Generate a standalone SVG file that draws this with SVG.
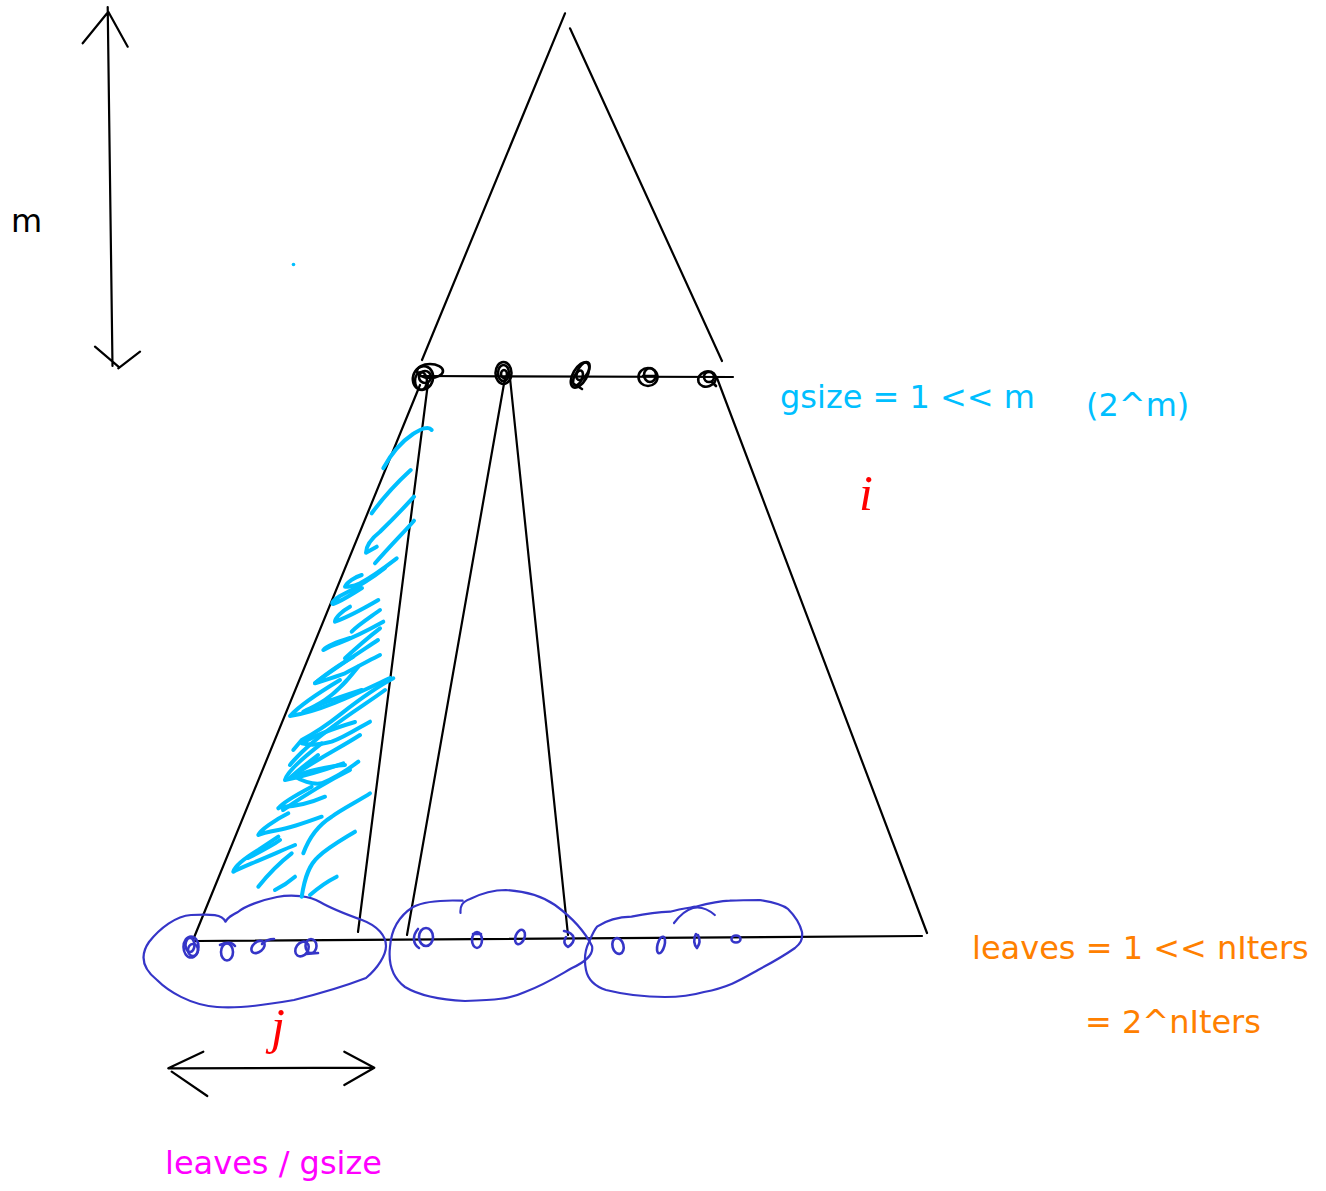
<svg xmlns="http://www.w3.org/2000/svg" width="1326" height="1191" viewBox="0 0 1326 1191">
<style>
.ink{fill:none;stroke:#000;stroke-width:2.2;stroke-linecap:round;stroke-linejoin:round}
.node{fill:none;stroke:#000;stroke-width:2.6;stroke-linecap:round;stroke-linejoin:round}
.blue{fill:none;stroke:#3535c8;stroke-width:2.2;stroke-linecap:round;stroke-linejoin:round}
.leaf{fill:none;stroke:#3535c8;stroke-width:2.6;stroke-linecap:round;stroke-linejoin:round}
.cyan{fill:none;stroke:#00bfff;stroke-width:4;stroke-linecap:round;stroke-linejoin:round}
.t{font-family:"DejaVu Sans","Liberation Sans",sans-serif;font-size:32px}
.v{font-family:"Liberation Serif","DejaVu Serif",serif;font-style:italic;font-size:50px;fill:#ff0000}
</style>
<rect width="1326" height="1191" fill="#fff"/>

<g id="connectors">
  <path class="ink" d="M107.7,7 L112.5,366 M82.7,43.3 L107.3,13 M108.3,11.7 L127.7,46.7 M95,346.7 L119.3,367.3 M140,351.7 L118.3,368.3"/>
  <path class="ink" d="M565,13.3 L422,360 M570,28.3 L722,361"/>
  <path class="ink" d="M422,376 L733,377"/>
  <path class="ink" d="M420,385 L193,940 M428,383 L358,932"/>
  <path class="ink" d="M505,378 L407,935 M510,378 L568,935"/>
  <path class="ink" d="M717,378 L927,933"/>
  <path class="ink" d="M195,941 L922,936"/>
  <path class="ink" d="M168.3,1068.3 L373,1067.7 M203.3,1051.7 L168.3,1068.3 M171.7,1071.7 L207.3,1096 M344.3,1051.7 L374.3,1067.7 L344.3,1085"/>
</g>

<g id="top-nodes">
  <g id="node-top-1" class="node">
    <ellipse cx="423" cy="378" rx="10" ry="12" transform="rotate(15 423 378)"/>
    <ellipse cx="430" cy="371" rx="13" ry="7"/>
    <ellipse cx="421" cy="381" rx="6" ry="9"/>
    <ellipse cx="425" cy="377" rx="6" ry="6"/>
  </g>
  <g id="node-top-2" class="node">
    <ellipse cx="503.5" cy="373" rx="8" ry="11"/>
    <ellipse cx="503.5" cy="373" rx="5.5" ry="8"/>
    <ellipse cx="504" cy="374" rx="3" ry="4"/>
  </g>
  <g id="node-top-3" class="node">
    <ellipse cx="580" cy="375" rx="7" ry="14" transform="rotate(30 580 375)"/>
    <ellipse cx="583" cy="371" rx="5" ry="10" transform="rotate(30 583 371)"/>
    <ellipse cx="578" cy="378" rx="4" ry="8" transform="rotate(25 578 378)"/>
    <path d="M574,384 L582,389"/>
  </g>
  <g id="node-top-4" class="node">
    <ellipse cx="648" cy="377" rx="9.5" ry="9"/>
    <ellipse cx="650" cy="375" rx="6" ry="7"/>
    <path d="M643,376 L657,376"/>
  </g>
  <g id="node-top-5" class="node">
    <ellipse cx="707" cy="379" rx="9" ry="7.5" transform="rotate(-20 707 379)"/>
    <ellipse cx="709" cy="377" rx="5" ry="5"/>
    <path d="M712,382 L716,386"/>
  </g>
</g>

<g id="group-blobs">
  <path id="blob-1" class="blue" d="M225.5,921.7 C222,914 212,914 191,915 C176,916 160,928 149,942 C140,955 142,968 157,980 C168,991 190,1005 217,1007 C240,1009 270,1004 294,1000 C318,994 340,988 366,978 C378,968 386,955 386,946 C386,936 378,926 362,920 C348,915 332,909 320,902 C310,896 292,894 277,897 C262,900 245,906 238,912 C232,915 228,917 225.5,921.7"/>
  <path id="blob-2" class="blue" d="M460.5,913 C460,906 462,902 470,899 C482,893 492,890 506,890 C524,891 542,896 555,905 C570,916 584,930 592,946 C594,955 585,962 572,968 C558,976 546,984 525,992 C510,999 495,1000 465,1001 C445,1000 420,996 405,987 C393,978 388,965 390,947 C391,932 396,918 413,907 C425,901 445,900 462.6,900.7"/>
  <path id="blob-3" class="blue" d="M597,926.7 C607,920 618,917 631.5,916.7 C645,914 660,912 670,911.7 C680,909 688,908 695.6,906.7 C710,903 720,901 729.7,900.7 C742,900 752,900 759.7,900 C772,902 782,904 788,909 C795,916 800,924 802,932 C803,940 800,944 795,948 C785,955 775,961 758,970 C742,979 730,987 704,992 C690,996 680,997 665,997 C650,997 630,996 606,990 C594,986 588,980 586,970 C584,960 585,950 589,942 C592,935 594,930 597,926.7"/>
  <path class="blue" d="M674,923 C680,915 686,910 693,908 C702,906 709,910 714.8,915"/>
</g>

<g id="leaf-marks" class="leaf">
  <ellipse cx="191" cy="947" rx="7.5" ry="10.5"/>
  <ellipse cx="190" cy="945" rx="4.5" ry="7"/>
  <ellipse cx="193" cy="950" rx="5" ry="6"/>
  <ellipse cx="227" cy="952" rx="6" ry="8.5"/>
  <path d="M220,945 C226,942 232,942 235,946"/>
  <ellipse cx="258" cy="947" rx="5" ry="7.5" transform="rotate(50 258 947)"/>
  <path d="M262,944 C266,940 270,939 274,939"/>
  <ellipse cx="302" cy="949" rx="6" ry="8" transform="rotate(35 302 949)"/>
  <ellipse cx="311" cy="946" rx="5.5" ry="7"/>
  <path d="M306,954 L318,953"/>
  <ellipse cx="426" cy="937" rx="7" ry="9"/>
  <path d="M418,929 C412,936 413,944 419,948"/>
  <ellipse cx="477" cy="940" rx="5" ry="8"/>
  <path d="M473,934 L481,934"/>
  <ellipse cx="520" cy="937" rx="4.5" ry="7.5" transform="rotate(20 520 937)"/>
  <path d="M564,931 C575,933 577,941 568,947 C563,944 564,940 566,937"/>
  <ellipse cx="618" cy="946" rx="5.5" ry="8" transform="rotate(-15 618 946)"/>
  <ellipse cx="661" cy="945" rx="3.5" ry="8.5" transform="rotate(15 661 945)"/>
  <path d="M696,934 C693,939 694,945 697,948 C700,944 700,939 698,935"/>
  <ellipse cx="736" cy="939" rx="4.5" ry="3.5"/>
</g>

<g id="hatch" class="cyan">
  <path d="M431.7,430 C428,425 420,430 413,434 C404,440 392,452 383.3,468.3"/>
  <path d="M410.7,470 C402,478 385,495 371.7,513.3"/>
  <path d="M414,496.7 C400,512 388,524 380,531.7 C372,538 366,546 366,552.7 L376.7,546.7"/>
  <path d="M414,520.7 C406,530 390,546 375,563.3"/>
  <path d="M396.7,558.3 C388,565 370,578 360,583.3 C352,587 345,587 345,586.7 C347,582 355,577 361.7,575"/>
  <path d="M385,568 C370,580 352,590 340,596 C333,600 331,604 333,604 C342,601 352,594 362,588"/>
  <path d="M378.3,600 C368,606 348,617 335,621.7 C335,618 342,611 350,606.7"/>
  <path d="M380,610 C372,616 358,625 351.7,631.7"/>
  <path d="M383.3,621.7 C372,628 355,637 338.3,643.3 C330,646 325,649 323.3,650 C328,645 340,641 350,638"/>
  <path d="M380,628.3 C370,636 356,648 345,658.3"/>
  <path d="M378,640 C360,652 335,668 315,683"/>
  <path d="M380,655 C370,660 355,668 345,673.3 C335,677 322,681 315,683.3 C322,677 340,664 353.3,656.7"/>
  <path d="M358.3,666.7 C350,677 340,690 325,700 C316,706 307,710 303.3,711.7 C312,707 340,697 361.7,690"/>
  <path d="M390,678 C360,692 320,712 290,716 C300,705 320,692 340,680"/>
  <path d="M393.3,678.3 C375,688 355,703 341.7,713.3 C332,721 315,733 301.7,740 L293.3,750"/>
  <path d="M385,690 C365,705 330,725 302,752 C296,758 292,762 290,765"/>
  <path d="M370,721.7 C360,727 345,737 331.7,741.7 C320,745 308,745 301.7,743.3 C312,737 335,728 355,722"/>
  <path d="M360,735 C340,748 315,760 290,778 C298,770 308,763 318,755"/>
  <path d="M358.3,761.7 C350,768 335,778 321.7,783.3 C312,785 300,780 295,776.7 C305,771 330,766 345,765"/>
  <path d="M343.3,763.3 C330,768 305,776 285,780 C287,772 300,760 321.7,743.3"/>
  <path d="M350,770 C330,780 305,795 283,810"/>
  <path d="M370,793.3 C360,800 340,810 331.7,816.7 C320,824 310,835 303.3,853.3"/>
  <path d="M325,796.7 C315,801 298,806 285,806.7 C280,807 278,808 278.3,808.3 C282,803 296,795 311.7,786.7"/>
  <path d="M321.7,816.7 C310,821 290,828 278.3,830 C268,832 260,834 258.3,835 C260,830 275,820 288.3,813.3"/>
  <path d="M355,831.7 C345,838 330,846 318.3,856.7 C310,864 305,875 301.7,896.7"/>
  <path d="M295,845 C285,849 265,858 251.7,863.3 C243,867 236,870 233.3,871.7 C235,866 245,858 258.3,850 L278.3,836.7"/>
  <path d="M291.7,853.3 C283,860 270,872 258.3,886.7"/>
  <path d="M336.7,876.7 C328,881 318,888 310,895"/>
  <path d="M295,876.7 C290,881 283,886 275,890"/>
  <path d="M280,840 C272,846 258,853 248,858"/>
</g>

<g id="dot">
  <circle cx="293.5" cy="264.5" r="1.8" fill="#00bfff"/>
</g>

<g id="labels">
  <text class="t" x="11" y="232" fill="#000">m</text>
  <text class="t" x="780" y="408" fill="#00bfff">gsize = 1 &lt;&lt; m</text>
  <text class="t" x="1086" y="416" fill="#00bfff">(2^m)</text>
  <text class="v" x="859" y="510">i</text>
  <text class="v" x="271" y="1043">j</text>
  <text class="t" x="972" y="959" fill="#ff8000">leaves = 1 &lt;&lt; nIters</text>
  <text class="t" x="1085" y="1033" fill="#ff8000">= 2^nIters</text>
  <text class="t" x="165" y="1174" fill="#ff00ff">leaves / gsize</text>
</g>
</svg>
